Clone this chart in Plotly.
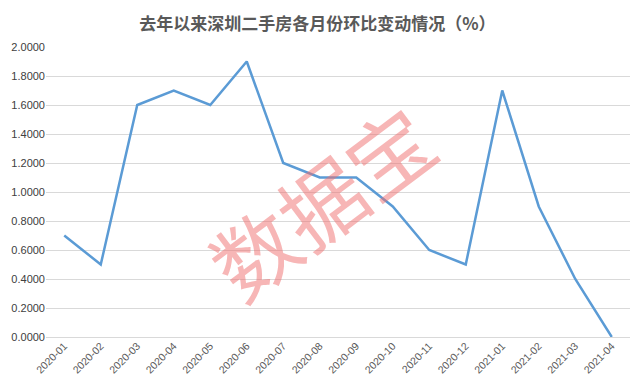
import plotly.graph_objects as go

months = ["2020-01", "2020-02", "2020-03", "2020-04", "2020-05", "2020-06", "2020-07", "2020-08",
          "2020-09", "2020-10", "2020-11", "2020-12", "2021-01", "2021-02", "2021-03", "2021-04"]
values = [0.70, 0.50, 1.60, 1.70, 1.60, 1.90, 1.20, 1.10, 1.10, 0.90, 0.60, 0.50, 1.70, 0.90, 0.40, 0.00]
y_ticks = [0.0, 0.2, 0.4, 0.6, 0.8, 1.0, 1.2, 1.4, 1.6, 1.8, 2.0]

fig = go.Figure()
fig.add_trace(go.Scatter(x=months, y=values, mode="lines",
                         line=dict(color="#5B9BD5", width=2.5)))

fig.update_layout(
    width=638, height=391,
    margin=dict(l=38, r=16, t=39, b=62, autoexpand=False),
    paper_bgcolor="white", plot_bgcolor="white",
    showlegend=False,
    title=dict(text="<b>去年以来深圳二手房各月份环比变动情况（%）</b>", x=0.485, xanchor="center",
               y=0.96, yanchor="middle",
               font=dict(family="Noto Sans CJK SC", size=17, color="#595959")),
    font=dict(family="Liberation Sans", color="#595959"),
)
fig.update_xaxes(type="category", range=[-0.5, 15.5], tickangle=-45, showgrid=False,
                 showline=False, automargin=False,
                 tickfont=dict(size=10.5, color="#595959"), ticks="")
fig.update_yaxes(range=[0, 2], tickvals=y_ticks, tickformat=".4f", showgrid=True,
                 gridcolor="#D9D9D9", gridwidth=1, zeroline=True, zerolinecolor="#D9D9D9",
                 zerolinewidth=1, showline=False, ticks="", automargin=False,
                 tickfont=dict(size=11, color="#404040"))

fig.add_annotation(text="数据宝", x=0.469, y=0.472, xref="paper", yref="paper",
                   showarrow=False, textangle=-37,
                   font=dict(family="Noto Sans CJK SC", size=84, color="rgba(240,110,110,0.5)"))

fig.write_html("out.html")
